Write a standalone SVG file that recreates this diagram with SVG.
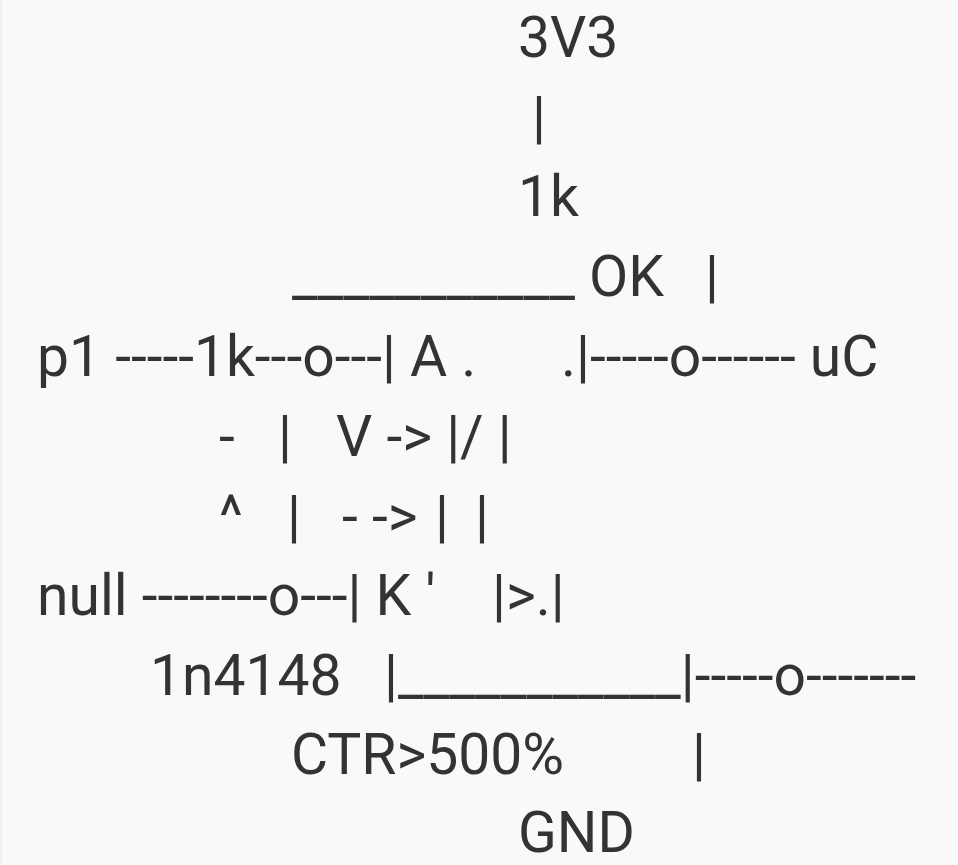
<svg xmlns="http://www.w3.org/2000/svg" width="958" height="865" viewBox="0 0 958 865">
<style>
text{font-family:Roboto,"Noto Sans",sans-serif;font-size:57px;fill:#333;white-space:pre}
</style>
<rect width="958" height="865" fill="#f9f9f9"/>
<rect width="2" height="865" fill="#f0f0f0"/>
<text x="518" y="57">3V3</text>
<text x="532" y="137">|</text>
<text x="518" y="216">1k</text>
<text x="292" y="296">___________ OK</text>
<text x="705" y="296">|</text>
<text x="37" y="376">p1 -----1k---o---| A .</text>
<text x="561" y="376">.|-----o------ uC</text>
<text x="219" y="456">-</text>
<text x="278" y="456">|</text>
<text x="336" y="456">V -&gt; |/ |</text>
<text x="219" y="536">^</text>
<text x="287" y="536">|</text>
<text x="342" y="536">- -&gt;</text>
<text x="435" y="536">|</text>
<text x="475" y="536">|</text>
<text x="37" y="615">null --------o---| K '</text>
<text x="492" y="615">|&gt;.|</text>
<text x="150" y="695">1n4148</text>
<text x="384" y="695">|___________|-----o-------</text>
<text x="291" y="774">CTR&gt;500%</text>
<text x="692" y="774">|</text>
<text x="518" y="852">GND</text>
</svg>
